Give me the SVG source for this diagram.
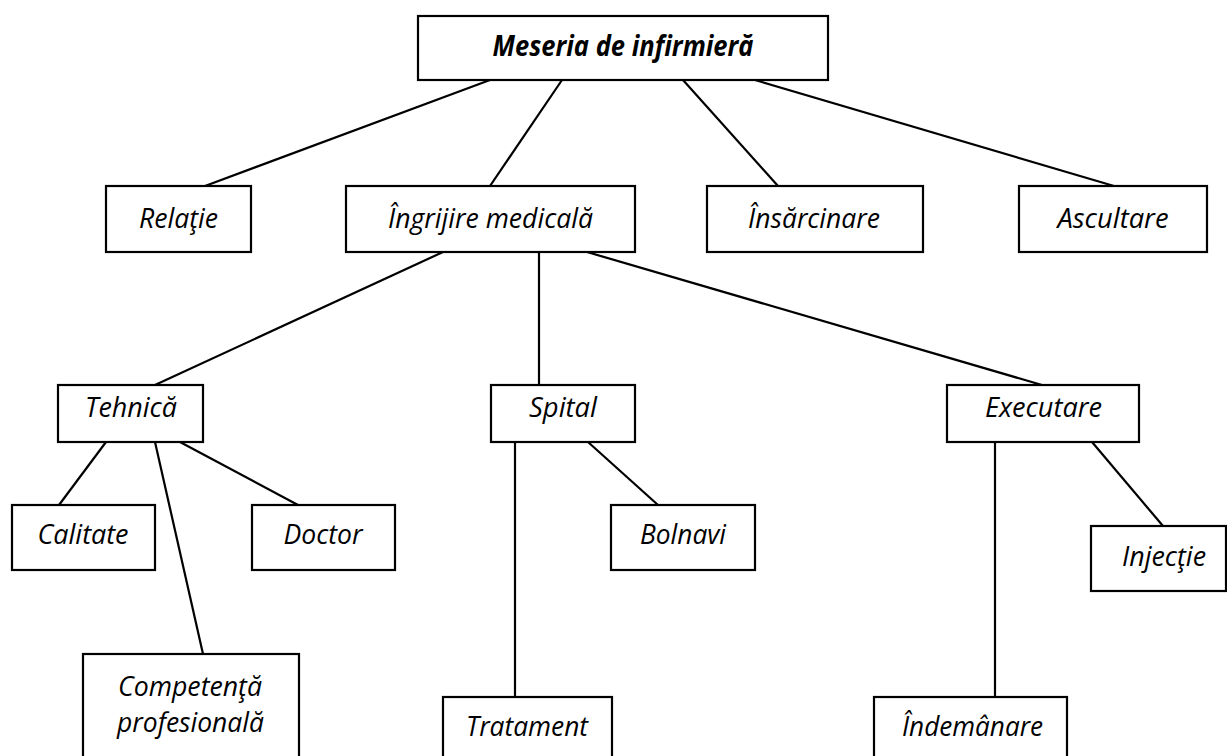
<svg xmlns="http://www.w3.org/2000/svg" width="1227" height="756" viewBox="0 0 1227 756">
<style>
rect{fill:#fff;stroke:#000;stroke-width:2.2}
line{stroke:#000;stroke-width:2.2}
text{font-family:"Open Sans","Noto Sans",sans-serif;font-style:italic;font-size:28px;fill:#000;text-anchor:middle}
.b{font-weight:bold}
</style>
<rect x="0" y="0" width="1227" height="756" style="fill:#fff;stroke:none"/>
<g id="connectors">
<line x1="490" y1="80" x2="205" y2="186"/>
<line x1="562" y1="80" x2="490" y2="186"/>
<line x1="683" y1="80" x2="778" y2="186"/>
<line x1="755" y1="80" x2="1114" y2="186"/>
<line x1="443" y1="252" x2="155" y2="385"/>
<line x1="539" y1="252" x2="539" y2="385"/>
<line x1="587" y1="252" x2="1042" y2="385"/>
<line x1="106" y1="442" x2="59" y2="505"/>
<line x1="155" y1="442" x2="203" y2="654"/>
<line x1="180" y1="442" x2="298" y2="505"/>
<line x1="515" y1="442" x2="515" y2="697"/>
<line x1="588" y1="442" x2="658" y2="505"/>
<line x1="995" y1="442" x2="995" y2="697"/>
<line x1="1092" y1="442" x2="1163" y2="526"/>
</g>
<g id="n-root"><rect x="418" y="16" width="410" height="64"/><text class="b" x="623" y="56" textLength="261" lengthAdjust="spacingAndGlyphs">Meseria de infirmieră</text></g>
<g id="n-relatie"><rect x="106" y="186" width="145" height="66"/><text x="178.5" y="228" textLength="79" lengthAdjust="spacingAndGlyphs">Relaţie</text></g>
<g id="n-ingrijire"><rect x="346" y="186" width="289" height="66"/><text x="490.5" y="228" textLength="205" lengthAdjust="spacingAndGlyphs">Îngrijire medicală</text></g>
<g id="n-insarcinare"><rect x="707" y="186" width="216" height="66"/><text x="814" y="228" textLength="132" lengthAdjust="spacingAndGlyphs">Însărcinare</text></g>
<g id="n-ascultare"><rect x="1019" y="186" width="188" height="66"/><text x="1113" y="228" textLength="111" lengthAdjust="spacingAndGlyphs">Ascultare</text></g>
<g id="n-tehnica"><rect x="58" y="385" width="145" height="57"/><text x="131" y="417" textLength="92" lengthAdjust="spacingAndGlyphs">Tehnică</text></g>
<g id="n-spital"><rect x="491" y="385" width="144" height="57"/><text x="563" y="417" textLength="68" lengthAdjust="spacingAndGlyphs">Spital</text></g>
<g id="n-executare"><rect x="947" y="385" width="192" height="57"/><text x="1043.5" y="417" textLength="117" lengthAdjust="spacingAndGlyphs">Executare</text></g>
<g id="n-calitate"><rect x="12" y="505" width="143" height="65"/><text x="83" y="544" textLength="91" lengthAdjust="spacingAndGlyphs">Calitate</text></g>
<g id="n-doctor"><rect x="252" y="505" width="143" height="65"/><text x="323" y="544" textLength="79" lengthAdjust="spacingAndGlyphs">Doctor</text></g>
<g id="n-bolnavi"><rect x="611" y="505" width="144" height="65"/><text x="683" y="544" textLength="86" lengthAdjust="spacingAndGlyphs">Bolnavi</text></g>
<g id="n-injectie"><rect x="1091" y="526" width="135" height="65"/><text x="1164" y="566" textLength="84" lengthAdjust="spacingAndGlyphs">Injecţie</text></g>
<g id="n-competenta"><rect x="83" y="654" width="216" height="110"/><text x="190" y="696" textLength="144" lengthAdjust="spacingAndGlyphs">Competenţă</text><text x="190.5" y="732" textLength="147" lengthAdjust="spacingAndGlyphs">profesională</text></g>
<g id="n-tratament"><rect x="443" y="697" width="169" height="70"/><text x="527" y="736" textLength="122" lengthAdjust="spacingAndGlyphs">Tratament</text></g>
<g id="n-indemanare"><rect x="874" y="697" width="193" height="70"/><text x="972.5" y="736" textLength="141" lengthAdjust="spacingAndGlyphs">Îndemânare</text></g>
</svg>
